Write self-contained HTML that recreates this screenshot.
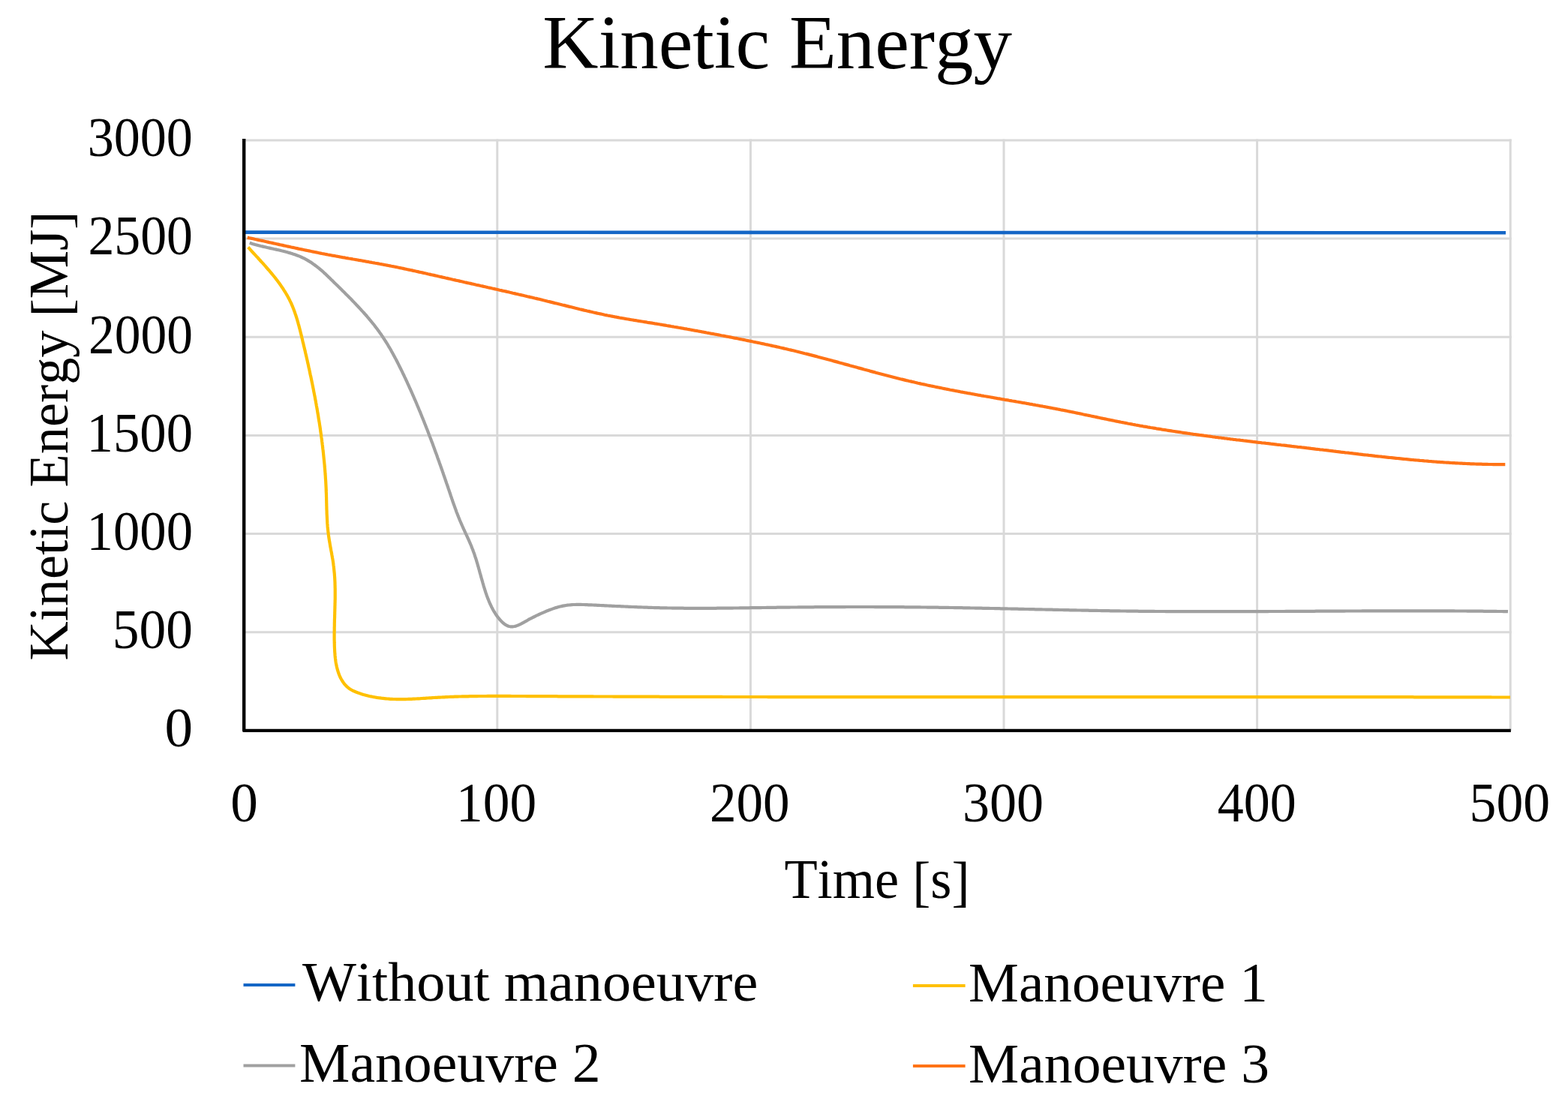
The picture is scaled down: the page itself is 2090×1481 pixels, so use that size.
<!DOCTYPE html>
<html><head><meta charset="utf-8"><title>Kinetic Energy</title>
<style>
html,body{margin:0;padding:0;background:#fff;}
body{width:2090px;height:1481px;overflow:hidden;}
svg{display:block;}
text{font-family:"Liberation Serif","DejaVu Serif",serif;fill:#000;font-kerning:none;}
</style></head><body>
<svg width="2090" height="1481" viewBox="0 0 2090 1481">
<rect width="2090" height="1481" fill="#fff"/>
<line x1="325.2" y1="187.0" x2="2014.7" y2="187.0" stroke="#d9d9d9" stroke-width="3"/>
<line x1="325.2" y1="318.1" x2="2014.7" y2="318.1" stroke="#d9d9d9" stroke-width="3"/>
<line x1="325.2" y1="449.3" x2="2014.7" y2="449.3" stroke="#d9d9d9" stroke-width="3"/>
<line x1="325.2" y1="580.5" x2="2014.7" y2="580.5" stroke="#d9d9d9" stroke-width="3"/>
<line x1="325.2" y1="711.6" x2="2014.7" y2="711.6" stroke="#d9d9d9" stroke-width="3"/>
<line x1="325.2" y1="842.8" x2="2014.7" y2="842.8" stroke="#d9d9d9" stroke-width="3"/>
<line x1="662.8" y1="185.5" x2="662.8" y2="973.9" stroke="#d9d9d9" stroke-width="3"/>
<line x1="1000.4" y1="185.5" x2="1000.4" y2="973.9" stroke="#d9d9d9" stroke-width="3"/>
<line x1="1338.0" y1="185.5" x2="1338.0" y2="973.9" stroke="#d9d9d9" stroke-width="3"/>
<line x1="1675.6" y1="185.5" x2="1675.6" y2="973.9" stroke="#d9d9d9" stroke-width="3"/>
<line x1="2013.2" y1="185.5" x2="2013.2" y2="973.9" stroke="#d9d9d9" stroke-width="3"/>
<path d="M327.0,309.6 L1000.0,309.9 L2007.0,310.3" fill="none" stroke="#1466c6" stroke-width="4.6" stroke-linejoin="round"/>
<path d="M329.7,316.6 L331.6,317.1 L333.6,317.5 L335.5,317.9 L337.5,318.3 L339.4,318.8 L341.4,319.2 L343.3,319.6 L345.3,320.1 L347.2,320.5 L349.2,320.9 L351.1,321.3 L353.1,321.8 L355.0,322.2 L357.0,322.6 L358.9,323.1 L360.9,323.5 L362.8,323.9 L364.8,324.4 L366.7,324.8 L368.7,325.2 L370.6,325.6 L372.6,326.1 L374.5,326.5 L376.5,326.9 L378.4,327.4 L380.4,327.8 L382.4,328.2 L384.3,328.6 L386.3,329.0 L388.2,329.5 L390.2,329.9 L392.1,330.3 L394.1,330.7 L396.0,331.1 L398.0,331.6 L399.9,332.0 L401.9,332.4 L403.8,332.8 L405.8,333.2 L407.8,333.6 L409.7,334.0 L411.7,334.4 L413.6,334.8 L415.6,335.2 L417.5,335.6 L419.5,336.0 L421.5,336.4 L423.4,336.8 L425.4,337.2 L427.3,337.6 L429.3,338.0 L431.3,338.3 L433.2,338.7 L435.2,339.1 L437.1,339.5 L439.1,339.8 L441.1,340.2 L443.0,340.6 L445.0,340.9 L447.0,341.3 L448.9,341.7 L450.9,342.0 L452.9,342.4 L454.8,342.7 L456.8,343.1 L458.8,343.4 L460.7,343.8 L462.7,344.1 L464.7,344.5 L466.6,344.8 L468.6,345.1 L470.6,345.5 L472.5,345.8 L474.5,346.2 L476.5,346.5 L478.4,346.9 L480.4,347.2 L482.4,347.5 L484.3,347.9 L486.3,348.2 L488.3,348.6 L490.2,348.9 L492.2,349.3 L494.2,349.6 L496.1,350.0 L498.1,350.3 L500.1,350.7 L502.0,351.0 L504.0,351.4 L506.0,351.8 L507.9,352.1 L509.9,352.5 L511.9,352.9 L513.8,353.2 L515.8,353.6 L517.7,354.0 L519.7,354.4 L521.7,354.8 L523.6,355.1 L525.6,355.5 L527.5,355.9 L529.5,356.3 L531.5,356.7 L533.4,357.1 L535.4,357.5 L537.3,357.9 L539.3,358.4 L541.2,358.8 L543.2,359.2 L545.1,359.6 L547.1,360.0 L549.1,360.4 L551.0,360.9 L553.0,361.3 L554.9,361.7 L556.9,362.1 L558.8,362.6 L560.8,363.0 L562.7,363.4 L564.7,363.9 L566.6,364.3 L568.6,364.7 L570.5,365.2 L572.5,365.6 L574.4,366.1 L576.4,366.5 L578.3,366.9 L580.3,367.4 L582.2,367.8 L584.2,368.3 L586.1,368.7 L588.1,369.1 L590.0,369.6 L592.0,370.0 L593.9,370.5 L595.9,370.9 L597.8,371.4 L599.8,371.8 L601.7,372.2 L603.7,372.7 L605.6,373.1 L607.6,373.6 L609.5,374.0 L611.5,374.4 L613.4,374.9 L615.4,375.3 L617.3,375.7 L619.3,376.2 L621.2,376.6 L623.2,377.1 L625.1,377.5 L627.1,377.9 L629.0,378.4 L631.0,378.8 L632.9,379.2 L634.9,379.7 L636.8,380.1 L638.8,380.5 L640.7,381.0 L642.7,381.4 L644.6,381.9 L646.6,382.3 L648.5,382.7 L650.5,383.2 L652.4,383.6 L654.4,384.0 L656.3,384.5 L658.2,384.9 L660.2,385.4 L662.1,385.8 L664.1,386.2 L666.0,386.7 L668.0,387.1 L669.9,387.6 L671.9,388.0 L673.8,388.4 L675.8,388.9 L677.7,389.3 L679.7,389.8 L681.6,390.2 L683.6,390.7 L685.5,391.1 L687.5,391.6 L689.4,392.0 L691.4,392.5 L693.3,392.9 L695.3,393.4 L697.2,393.8 L699.1,394.3 L701.1,394.7 L703.0,395.2 L705.0,395.6 L706.9,396.1 L708.9,396.5 L710.8,397.0 L712.8,397.5 L714.7,397.9 L716.6,398.4 L718.6,398.8 L720.5,399.3 L722.5,399.8 L724.4,400.3 L726.4,400.7 L728.3,401.2 L730.2,401.7 L732.2,402.1 L734.1,402.6 L736.1,403.1 L738.0,403.6 L739.9,404.1 L741.9,404.5 L743.8,405.0 L745.7,405.5 L747.7,406.0 L749.6,406.5 L751.6,406.9 L753.5,407.4 L755.4,407.9 L757.4,408.4 L759.3,408.9 L761.3,409.3 L763.2,409.8 L765.1,410.3 L767.1,410.8 L769.0,411.2 L771.0,411.7 L772.9,412.2 L774.8,412.6 L776.8,413.1 L778.7,413.6 L780.7,414.0 L782.6,414.5 L784.6,414.9 L786.5,415.4 L788.4,415.8 L790.4,416.3 L792.3,416.7 L794.3,417.1 L796.2,417.6 L798.2,418.0 L800.1,418.4 L802.1,418.8 L804.0,419.2 L806.0,419.7 L807.9,420.1 L809.9,420.5 L811.9,420.8 L813.8,421.2 L815.8,421.6 L817.7,422.0 L819.7,422.4 L821.7,422.7 L823.6,423.1 L825.6,423.5 L827.6,423.8 L829.5,424.2 L831.5,424.5 L833.5,424.9 L835.4,425.2 L837.4,425.5 L839.4,425.9 L841.3,426.2 L843.3,426.5 L845.3,426.9 L847.3,427.2 L849.2,427.5 L851.2,427.8 L853.2,428.2 L855.2,428.5 L857.1,428.8 L859.1,429.1 L861.1,429.4 L863.0,429.8 L865.0,430.1 L867.0,430.4 L869.0,430.7 L870.9,431.0 L872.9,431.4 L874.9,431.7 L876.9,432.0 L878.8,432.3 L880.8,432.7 L882.8,433.0 L884.8,433.3 L886.7,433.6 L888.7,434.0 L890.7,434.3 L892.6,434.6 L894.6,435.0 L896.6,435.3 L898.6,435.7 L900.5,436.0 L902.5,436.3 L904.5,436.7 L906.4,437.0 L908.4,437.4 L910.4,437.7 L912.3,438.1 L914.3,438.4 L916.3,438.8 L918.2,439.1 L920.2,439.5 L922.2,439.9 L924.1,440.2 L926.1,440.6 L928.1,440.9 L930.0,441.3 L932.0,441.7 L934.0,442.0 L935.9,442.4 L937.9,442.7 L939.9,443.1 L941.8,443.5 L943.8,443.8 L945.7,444.2 L947.7,444.6 L949.7,444.9 L951.6,445.3 L953.6,445.7 L955.6,446.0 L957.5,446.4 L959.5,446.8 L961.5,447.2 L963.4,447.5 L965.4,447.9 L967.3,448.3 L969.3,448.7 L971.3,449.0 L973.2,449.4 L975.2,449.8 L977.2,450.2 L979.1,450.6 L981.1,450.9 L983.0,451.3 L985.0,451.7 L987.0,452.1 L988.9,452.5 L990.9,452.9 L992.8,453.3 L994.8,453.7 L996.7,454.1 L998.7,454.5 L1000.7,454.9 L1002.6,455.3 L1004.6,455.7 L1006.5,456.1 L1008.5,456.5 L1010.4,456.9 L1012.4,457.3 L1014.3,457.7 L1016.3,458.1 L1018.3,458.5 L1020.2,459.0 L1022.2,459.4 L1024.1,459.8 L1026.1,460.2 L1028.0,460.6 L1030.0,461.1 L1031.9,461.5 L1033.9,461.9 L1035.8,462.4 L1037.8,462.8 L1039.7,463.3 L1041.7,463.7 L1043.6,464.1 L1045.5,464.6 L1047.5,465.0 L1049.4,465.5 L1051.4,466.0 L1053.3,466.4 L1055.3,466.9 L1057.2,467.3 L1059.2,467.8 L1061.1,468.3 L1063.0,468.7 L1065.0,469.2 L1066.9,469.7 L1068.9,470.2 L1070.8,470.7 L1072.7,471.2 L1074.7,471.6 L1076.6,472.1 L1078.5,472.6 L1080.5,473.1 L1082.4,473.6 L1084.4,474.1 L1086.3,474.6 L1088.2,475.1 L1090.2,475.7 L1092.1,476.2 L1094.0,476.7 L1095.9,477.2 L1097.9,477.7 L1099.8,478.2 L1101.7,478.7 L1103.7,479.3 L1105.6,479.8 L1107.5,480.3 L1109.5,480.8 L1111.4,481.4 L1113.3,481.9 L1115.3,482.4 L1117.2,482.9 L1119.1,483.5 L1121.0,484.0 L1123.0,484.5 L1124.9,485.1 L1126.8,485.6 L1128.8,486.1 L1130.7,486.6 L1132.6,487.2 L1134.5,487.7 L1136.5,488.2 L1138.4,488.8 L1140.3,489.3 L1142.3,489.8 L1144.2,490.4 L1146.1,490.9 L1148.0,491.4 L1150.0,491.9 L1151.9,492.5 L1153.8,493.0 L1155.8,493.5 L1157.7,494.0 L1159.6,494.6 L1161.5,495.1 L1163.5,495.6 L1165.4,496.1 L1167.3,496.7 L1169.3,497.2 L1171.2,497.7 L1173.1,498.2 L1175.1,498.7 L1177.0,499.2 L1178.9,499.7 L1180.9,500.2 L1182.8,500.7 L1184.7,501.2 L1186.7,501.7 L1188.6,502.2 L1190.5,502.7 L1192.5,503.2 L1194.4,503.7 L1196.4,504.2 L1198.3,504.7 L1200.2,505.2 L1202.2,505.6 L1204.1,506.1 L1206.1,506.6 L1208.0,507.1 L1209.9,507.5 L1211.9,508.0 L1213.8,508.4 L1215.8,508.9 L1217.7,509.3 L1219.7,509.8 L1221.6,510.2 L1223.6,510.7 L1225.5,511.1 L1227.5,511.6 L1229.4,512.0 L1231.4,512.4 L1233.3,512.8 L1235.3,513.3 L1237.2,513.7 L1239.2,514.1 L1241.1,514.5 L1243.1,514.9 L1245.0,515.3 L1247.0,515.7 L1248.9,516.1 L1250.9,516.5 L1252.9,516.9 L1254.8,517.3 L1256.8,517.7 L1258.7,518.1 L1260.7,518.5 L1262.6,518.9 L1264.6,519.3 L1266.6,519.7 L1268.5,520.0 L1270.5,520.4 L1272.4,520.8 L1274.4,521.2 L1276.4,521.5 L1278.3,521.9 L1280.3,522.3 L1282.3,522.6 L1284.2,523.0 L1286.2,523.4 L1288.2,523.7 L1290.1,524.1 L1292.1,524.4 L1294.1,524.8 L1296.0,525.2 L1298.0,525.5 L1300.0,525.9 L1301.9,526.2 L1303.9,526.6 L1305.9,526.9 L1307.8,527.3 L1309.8,527.6 L1311.8,528.0 L1313.7,528.3 L1315.7,528.7 L1317.7,529.0 L1319.6,529.3 L1321.6,529.7 L1323.6,530.0 L1325.5,530.4 L1327.5,530.7 L1329.5,531.1 L1331.4,531.4 L1333.4,531.7 L1335.4,532.1 L1337.3,532.4 L1339.3,532.8 L1341.3,533.1 L1343.2,533.4 L1345.2,533.8 L1347.2,534.1 L1349.2,534.5 L1351.1,534.8 L1353.1,535.1 L1355.1,535.5 L1357.0,535.8 L1359.0,536.2 L1361.0,536.5 L1362.9,536.9 L1364.9,537.2 L1366.9,537.5 L1368.8,537.9 L1370.8,538.2 L1372.8,538.6 L1374.7,538.9 L1376.7,539.3 L1378.7,539.6 L1380.6,540.0 L1382.6,540.3 L1384.6,540.7 L1386.5,541.1 L1388.5,541.4 L1390.5,541.8 L1392.4,542.1 L1394.4,542.5 L1396.4,542.9 L1398.3,543.2 L1400.3,543.6 L1402.3,544.0 L1404.2,544.4 L1406.2,544.7 L1408.1,545.1 L1410.1,545.5 L1412.1,545.9 L1414.0,546.3 L1416.0,546.6 L1417.9,547.0 L1419.9,547.4 L1421.9,547.8 L1423.8,548.2 L1425.8,548.6 L1427.7,549.0 L1429.7,549.4 L1431.7,549.8 L1433.6,550.2 L1435.6,550.6 L1437.5,551.0 L1439.5,551.4 L1441.4,551.8 L1443.4,552.3 L1445.3,552.7 L1447.3,553.1 L1449.3,553.5 L1451.2,553.9 L1453.2,554.3 L1455.1,554.7 L1457.1,555.1 L1459.0,555.5 L1461.0,555.9 L1463.0,556.4 L1464.9,556.8 L1466.9,557.2 L1468.8,557.6 L1470.8,558.0 L1472.7,558.4 L1474.7,558.8 L1476.6,559.2 L1478.6,559.6 L1480.6,560.0 L1482.5,560.4 L1484.5,560.8 L1486.4,561.2 L1488.4,561.6 L1490.4,562.0 L1492.3,562.4 L1494.3,562.8 L1496.2,563.1 L1498.2,563.5 L1500.2,563.9 L1502.1,564.3 L1504.1,564.7 L1506.0,565.0 L1508.0,565.4 L1510.0,565.8 L1511.9,566.1 L1513.9,566.5 L1515.9,566.8 L1517.8,567.2 L1519.8,567.6 L1521.8,567.9 L1523.7,568.3 L1525.7,568.6 L1527.7,568.9 L1529.6,569.3 L1531.6,569.6 L1533.6,570.0 L1535.5,570.3 L1537.5,570.6 L1539.5,570.9 L1541.4,571.3 L1543.4,571.6 L1545.4,571.9 L1547.4,572.2 L1549.3,572.6 L1551.3,572.9 L1553.3,573.2 L1555.2,573.5 L1557.2,573.8 L1559.2,574.1 L1561.2,574.4 L1563.1,574.7 L1565.1,575.0 L1567.1,575.3 L1569.1,575.6 L1571.0,575.9 L1573.0,576.2 L1575.0,576.5 L1577.0,576.8 L1578.9,577.1 L1580.9,577.4 L1582.9,577.7 L1584.9,577.9 L1586.8,578.2 L1588.8,578.5 L1590.8,578.8 L1592.8,579.0 L1594.8,579.3 L1596.7,579.6 L1598.7,579.9 L1600.7,580.1 L1602.7,580.4 L1604.7,580.7 L1606.6,580.9 L1608.6,581.2 L1610.6,581.5 L1612.6,581.7 L1614.6,582.0 L1616.5,582.3 L1618.5,582.5 L1620.5,582.8 L1622.5,583.0 L1624.5,583.3 L1626.5,583.5 L1628.4,583.8 L1630.4,584.0 L1632.4,584.3 L1634.4,584.5 L1636.4,584.8 L1638.3,585.0 L1640.3,585.3 L1642.3,585.5 L1644.3,585.8 L1646.3,586.0 L1648.3,586.3 L1650.3,586.5 L1652.2,586.7 L1654.2,587.0 L1656.2,587.2 L1658.2,587.5 L1660.2,587.7 L1662.2,587.9 L1664.1,588.2 L1666.1,588.4 L1668.1,588.6 L1670.1,588.9 L1672.1,589.1 L1674.1,589.3 L1676.1,589.6 L1678.0,589.8 L1680.0,590.0 L1682.0,590.3 L1684.0,590.5 L1686.0,590.7 L1688.0,591.0 L1690.0,591.2 L1691.9,591.4 L1693.9,591.7 L1695.9,591.9 L1697.9,592.1 L1699.9,592.3 L1701.9,592.6 L1703.9,592.8 L1705.9,593.0 L1707.8,593.3 L1709.8,593.5 L1711.8,593.7 L1713.8,593.9 L1715.8,594.2 L1717.8,594.4 L1719.8,594.6 L1721.7,594.9 L1723.7,595.1 L1725.7,595.3 L1727.7,595.5 L1729.7,595.8 L1731.7,596.0 L1733.7,596.2 L1735.7,596.5 L1737.6,596.7 L1739.6,596.9 L1741.6,597.2 L1743.6,597.4 L1745.6,597.6 L1747.6,597.9 L1749.6,598.1 L1751.5,598.3 L1753.5,598.6 L1755.5,598.8 L1757.5,599.0 L1759.5,599.3 L1761.5,599.5 L1763.5,599.7 L1765.4,600.0 L1767.4,600.2 L1769.4,600.4 L1771.4,600.7 L1773.4,600.9 L1775.4,601.1 L1777.4,601.4 L1779.3,601.6 L1781.3,601.9 L1783.3,602.1 L1785.3,602.3 L1787.3,602.6 L1789.3,602.8 L1791.2,603.0 L1793.2,603.3 L1795.2,603.5 L1797.2,603.7 L1799.2,604.0 L1801.2,604.2 L1803.2,604.4 L1805.1,604.7 L1807.1,604.9 L1809.1,605.1 L1811.1,605.4 L1813.1,605.6 L1815.1,605.8 L1817.1,606.1 L1819.0,606.3 L1821.0,606.5 L1823.0,606.7 L1825.0,607.0 L1827.0,607.2 L1829.0,607.4 L1830.9,607.6 L1832.9,607.9 L1834.9,608.1 L1836.9,608.3 L1838.9,608.5 L1840.9,608.7 L1842.9,609.0 L1844.9,609.2 L1846.8,609.4 L1848.8,609.6 L1850.8,609.8 L1852.8,610.0 L1854.8,610.2 L1856.8,610.4 L1858.8,610.6 L1860.7,610.8 L1862.7,611.0 L1864.7,611.2 L1866.7,611.4 L1868.7,611.6 L1870.7,611.8 L1872.7,612.0 L1874.7,612.2 L1876.6,612.4 L1878.6,612.6 L1880.6,612.8 L1882.6,613.0 L1884.6,613.2 L1886.6,613.3 L1888.6,613.5 L1890.6,613.7 L1892.6,613.9 L1894.5,614.0 L1896.5,614.2 L1898.5,614.4 L1900.5,614.5 L1902.5,614.7 L1904.5,614.9 L1906.5,615.0 L1908.5,615.2 L1910.5,615.3 L1912.5,615.5 L1914.4,615.6 L1916.4,615.8 L1918.4,615.9 L1920.4,616.1 L1922.4,616.2 L1924.4,616.3 L1926.4,616.5 L1928.4,616.6 L1930.4,616.7 L1932.4,616.8 L1934.4,617.0 L1936.4,617.1 L1938.4,617.2 L1940.3,617.3 L1942.3,617.4 L1944.3,617.5 L1946.3,617.6 L1948.3,617.7 L1950.3,617.8 L1952.3,617.9 L1954.3,618.0 L1956.3,618.1 L1958.3,618.2 L1960.3,618.3 L1962.3,618.4 L1964.3,618.4 L1966.3,618.5 L1968.3,618.6 L1970.3,618.6 L1972.3,618.7 L1974.3,618.7 L1976.3,618.8 L1978.3,618.9 L1980.3,618.9 L1982.3,618.9 L1984.3,619.0 L1986.3,619.0 L1988.3,619.0 L1990.3,619.1 L1992.3,619.1 L1994.3,619.1 L1996.3,619.1 L1998.3,619.1 L2000.3,619.1 L2002.3,619.1 L2004.3,619.1 L2006.3,619.1" fill="none" stroke="#ff7316" stroke-width="4.2" stroke-linejoin="round"/>
<path d="M332.7,323.7 L334.5,324.3 L336.3,324.9 L338.1,325.4 L340.0,326.0 L341.8,326.5 L343.7,327.0 L345.6,327.5 L347.6,328.0 L349.5,328.4 L351.4,328.9 L353.4,329.3 L355.4,329.8 L357.3,330.2 L359.3,330.6 L361.3,331.1 L363.3,331.5 L365.3,332.0 L367.3,332.4 L369.3,332.9 L371.3,333.3 L373.3,333.8 L375.3,334.3 L377.3,334.7 L379.3,335.2 L381.3,335.8 L383.2,336.3 L385.2,336.9 L387.1,337.4 L389.1,338.0 L391.0,338.7 L392.9,339.3 L394.8,340.0 L396.7,340.7 L398.6,341.4 L400.4,342.2 L402.2,343.0 L404.0,343.8 L405.8,344.7 L407.5,345.6 L409.3,346.6 L411.0,347.6 L412.6,348.6 L414.3,349.6 L415.9,350.7 L417.5,351.9 L419.1,353.0 L420.7,354.2 L422.3,355.4 L423.8,356.6 L425.4,357.8 L426.9,359.1 L428.4,360.4 L429.9,361.7 L431.4,363.0 L432.8,364.4 L434.3,365.7 L435.7,367.1 L437.2,368.5 L438.6,369.9 L440.1,371.3 L441.5,372.7 L443.0,374.1 L444.4,375.5 L445.8,376.9 L447.2,378.3 L448.7,379.7 L450.1,381.1 L451.5,382.5 L453.0,383.9 L454.4,385.3 L455.8,386.7 L457.3,388.2 L458.7,389.6 L460.1,391.0 L461.5,392.4 L462.9,393.8 L464.4,395.3 L465.8,396.7 L467.2,398.1 L468.6,399.5 L470.0,401.0 L471.4,402.4 L472.8,403.9 L474.2,405.3 L475.5,406.8 L476.9,408.2 L478.3,409.7 L479.6,411.1 L481.0,412.6 L482.3,414.1 L483.7,415.6 L485.0,417.0 L486.3,418.5 L487.7,420.0 L489.0,421.5 L490.3,423.1 L491.6,424.6 L492.8,426.1 L494.1,427.6 L495.4,429.2 L496.6,430.7 L497.9,432.3 L499.1,433.8 L500.3,435.4 L501.5,437.0 L502.7,438.6 L503.9,440.2 L505.1,441.8 L506.2,443.4 L507.4,445.0 L508.5,446.6 L509.6,448.3 L510.7,449.9 L511.8,451.6 L512.9,453.3 L514.0,455.0 L515.0,456.6 L516.1,458.3 L517.1,460.0 L518.1,461.8 L519.2,463.5 L520.2,465.2 L521.2,466.9 L522.1,468.7 L523.1,470.4 L524.1,472.2 L525.0,473.9 L526.0,475.7 L526.9,477.5 L527.9,479.2 L528.8,481.0 L529.7,482.8 L530.6,484.6 L531.5,486.4 L532.4,488.2 L533.3,490.0 L534.2,491.8 L535.1,493.6 L536.0,495.4 L536.8,497.2 L537.7,499.0 L538.6,500.8 L539.4,502.6 L540.3,504.4 L541.1,506.2 L542.0,508.0 L542.8,509.9 L543.6,511.7 L544.5,513.5 L545.3,515.3 L546.1,517.2 L547.0,519.0 L547.8,520.8 L548.6,522.6 L549.4,524.5 L550.2,526.3 L551.0,528.1 L551.8,530.0 L552.6,531.8 L553.4,533.6 L554.2,535.5 L555.0,537.3 L555.7,539.1 L556.5,541.0 L557.3,542.8 L558.1,544.7 L558.8,546.5 L559.6,548.4 L560.4,550.2 L561.1,552.1 L561.9,553.9 L562.6,555.8 L563.4,557.6 L564.1,559.5 L564.9,561.3 L565.6,563.2 L566.3,565.0 L567.1,566.9 L567.8,568.7 L568.5,570.6 L569.3,572.5 L570.0,574.3 L570.7,576.2 L571.4,578.1 L572.1,579.9 L572.8,581.8 L573.6,583.7 L574.3,585.5 L575.0,587.4 L575.7,589.3 L576.4,591.1 L577.1,593.0 L577.8,594.9 L578.5,596.8 L579.1,598.6 L579.8,600.5 L580.5,602.4 L581.2,604.3 L581.9,606.1 L582.6,608.0 L583.2,609.9 L583.9,611.8 L584.6,613.7 L585.3,615.5 L585.9,617.4 L586.6,619.3 L587.3,621.2 L587.9,623.1 L588.6,625.0 L589.3,626.8 L589.9,628.7 L590.6,630.6 L591.2,632.5 L591.9,634.4 L592.5,636.3 L593.2,638.2 L593.8,640.1 L594.5,642.0 L595.1,643.9 L595.8,645.7 L596.4,647.6 L597.1,649.5 L597.7,651.4 L598.4,653.3 L599.0,655.2 L599.6,657.1 L600.3,659.0 L600.9,660.9 L601.6,662.8 L602.2,664.7 L602.9,666.6 L603.5,668.5 L604.2,670.4 L604.8,672.3 L605.5,674.1 L606.2,676.0 L606.9,677.9 L607.6,679.8 L608.2,681.7 L608.9,683.5 L609.7,685.4 L610.4,687.3 L611.1,689.1 L611.9,691.0 L612.6,692.8 L613.4,694.7 L614.2,696.5 L615.0,698.3 L615.8,700.2 L616.6,702.0 L617.4,703.8 L618.2,705.6 L619.1,707.5 L619.9,709.3 L620.7,711.1 L621.6,712.9 L622.4,714.7 L623.2,716.5 L624.1,718.4 L624.9,720.2 L625.7,722.0 L626.5,723.8 L627.3,725.7 L628.1,727.5 L628.8,729.4 L629.5,731.2 L630.3,733.1 L630.9,735.0 L631.6,736.8 L632.3,738.7 L632.9,740.6 L633.5,742.5 L634.2,744.4 L634.8,746.3 L635.3,748.2 L635.9,750.1 L636.5,752.0 L637.0,754.0 L637.6,755.9 L638.1,757.8 L638.7,759.7 L639.2,761.7 L639.7,763.6 L640.3,765.5 L640.8,767.4 L641.3,769.4 L641.9,771.3 L642.4,773.2 L643.0,775.1 L643.5,777.1 L644.1,779.0 L644.6,780.9 L645.2,782.8 L645.8,784.7 L646.4,786.6 L647.0,788.5 L647.6,790.4 L648.3,792.3 L648.9,794.2 L649.6,796.1 L650.3,797.9 L651.1,799.8 L651.8,801.6 L652.6,803.5 L653.4,805.3 L654.3,807.1 L655.1,808.9 L656.1,810.7 L657.0,812.5 L658.0,814.3 L659.1,816.0 L660.2,817.8 L661.3,819.5 L662.5,821.2 L663.7,822.9 L665.0,824.5 L666.4,826.1 L667.8,827.7 L669.2,829.1 L670.7,830.5 L672.2,831.7 L673.8,832.8 L675.4,833.7 L677.0,834.5 L678.7,835.0 L680.4,835.3 L682.2,835.4 L683.9,835.3 L685.7,835.0 L687.6,834.6 L689.4,833.9 L691.2,833.2 L693.1,832.3 L695.0,831.4 L696.8,830.4 L698.7,829.4 L700.5,828.3 L702.4,827.3 L704.2,826.2 L706.0,825.2 L707.8,824.3 L709.6,823.4 L711.4,822.5 L713.2,821.6 L715.0,820.7 L716.8,819.9 L718.6,819.0 L720.4,818.2 L722.2,817.4 L724.0,816.6 L725.8,815.8 L727.7,815.0 L729.5,814.2 L731.4,813.5 L733.3,812.8 L735.2,812.1 L737.1,811.4 L739.0,810.7 L740.9,810.1 L742.8,809.6 L744.7,809.0 L746.6,808.5 L748.6,808.1 L750.5,807.6 L752.5,807.3 L754.4,807.0 L756.4,806.7 L758.4,806.5 L760.3,806.3 L762.3,806.1 L764.3,806.0 L766.3,806.0 L768.3,805.9 L770.3,805.9 L772.3,805.9 L774.3,805.9 L776.3,806.0 L778.3,806.0 L780.3,806.1 L782.3,806.2 L784.3,806.3 L786.3,806.3 L788.3,806.4 L790.3,806.5 L792.3,806.6 L794.3,806.7 L796.3,806.8 L798.3,806.9 L800.3,807.0 L802.3,807.1 L804.3,807.2 L806.3,807.3 L808.3,807.4 L810.3,807.5 L812.3,807.6 L814.3,807.7 L816.3,807.8 L818.3,807.9 L820.3,808.0 L822.3,808.1 L824.3,808.2 L826.3,808.2 L828.3,808.3 L830.3,808.4 L832.3,808.5 L834.3,808.6 L836.3,808.7 L838.3,808.8 L840.3,808.9 L842.3,809.0 L844.3,809.0 L846.3,809.1 L848.3,809.2 L850.3,809.3 L852.3,809.4 L854.3,809.4 L856.3,809.5 L858.3,809.6 L860.3,809.7 L862.3,809.7 L864.3,809.8 L866.3,809.9 L868.3,809.9 L870.3,810.0 L872.3,810.1 L874.3,810.1 L876.2,810.2 L878.2,810.2 L880.2,810.3 L882.2,810.3 L884.2,810.4 L886.2,810.4 L888.2,810.4 L890.2,810.5 L892.2,810.5 L894.2,810.5 L896.2,810.6 L898.2,810.6 L900.2,810.6 L902.2,810.7 L904.2,810.7 L906.2,810.7 L908.2,810.7 L910.2,810.7 L912.2,810.8 L914.2,810.8 L916.2,810.8 L918.2,810.8 L920.2,810.8 L922.2,810.8 L924.2,810.8 L926.2,810.8 L928.2,810.8 L930.2,810.8 L932.2,810.8 L934.2,810.8 L936.2,810.8 L938.2,810.8 L940.2,810.8 L942.2,810.8 L944.2,810.8 L946.2,810.8 L948.2,810.8 L950.2,810.8 L952.2,810.8 L954.2,810.8 L956.2,810.7 L958.2,810.7 L960.2,810.7 L962.2,810.7 L964.2,810.7 L966.2,810.7 L968.2,810.6 L970.2,810.6 L972.2,810.6 L974.2,810.6 L976.2,810.6 L978.2,810.5 L980.2,810.5 L982.2,810.5 L984.2,810.5 L986.2,810.4 L988.2,810.4 L990.2,810.4 L992.2,810.4 L994.2,810.3 L996.2,810.3 L998.2,810.3 L1000.2,810.2 L1002.2,810.2 L1004.2,810.2 L1006.2,810.2 L1008.2,810.1 L1010.2,810.1 L1012.2,810.1 L1014.2,810.1 L1016.2,810.0 L1018.2,810.0 L1020.2,810.0 L1022.2,809.9 L1024.2,809.9 L1026.2,809.9 L1028.2,809.9 L1030.2,809.8 L1032.2,809.8 L1034.2,809.8 L1036.2,809.7 L1038.2,809.7 L1040.2,809.7 L1042.2,809.7 L1044.2,809.6 L1046.2,809.6 L1048.2,809.6 L1050.2,809.6 L1052.2,809.6 L1054.2,809.5 L1056.2,809.5 L1058.2,809.5 L1060.2,809.5 L1062.2,809.5 L1064.2,809.4 L1066.2,809.4 L1068.2,809.4 L1070.2,809.4 L1072.2,809.4 L1074.2,809.3 L1076.2,809.3 L1078.2,809.3 L1080.2,809.3 L1082.2,809.3 L1084.2,809.3 L1086.2,809.2 L1088.2,809.2 L1090.2,809.2 L1092.2,809.2 L1094.2,809.2 L1096.2,809.2 L1098.2,809.2 L1100.2,809.2 L1102.2,809.1 L1104.2,809.1 L1106.2,809.1 L1108.2,809.1 L1110.2,809.1 L1112.2,809.1 L1114.2,809.1 L1116.2,809.1 L1118.2,809.1 L1120.2,809.1 L1122.2,809.1 L1124.2,809.1 L1126.2,809.1 L1128.2,809.0 L1130.2,809.0 L1132.2,809.0 L1134.2,809.0 L1136.2,809.0 L1138.2,809.0 L1140.2,809.0 L1142.2,809.0 L1144.2,809.0 L1146.2,809.0 L1148.2,809.0 L1150.2,809.0 L1152.2,809.0 L1154.2,809.0 L1156.2,809.0 L1158.2,809.0 L1160.2,809.0 L1162.2,809.0 L1164.2,809.0 L1166.2,809.1 L1168.2,809.1 L1170.2,809.1 L1172.2,809.1 L1174.2,809.1 L1176.2,809.1 L1178.2,809.1 L1180.2,809.1 L1182.2,809.1 L1184.2,809.1 L1186.2,809.1 L1188.2,809.1 L1190.2,809.2 L1192.2,809.2 L1194.2,809.2 L1196.2,809.2 L1198.2,809.2 L1200.2,809.2 L1202.2,809.2 L1204.2,809.2 L1206.2,809.3 L1208.2,809.3 L1210.2,809.3 L1212.2,809.3 L1214.2,809.3 L1216.2,809.3 L1218.2,809.4 L1220.2,809.4 L1222.2,809.4 L1224.2,809.4 L1226.2,809.4 L1228.2,809.5 L1230.2,809.5 L1232.2,809.5 L1234.2,809.5 L1236.2,809.6 L1238.2,809.6 L1240.2,809.6 L1242.2,809.6 L1244.2,809.7 L1246.1,809.7 L1248.1,809.7 L1250.1,809.7 L1252.1,809.8 L1254.1,809.8 L1256.1,809.8 L1258.1,809.8 L1260.1,809.9 L1262.1,809.9 L1264.1,809.9 L1266.1,810.0 L1268.1,810.0 L1270.1,810.0 L1272.1,810.1 L1274.1,810.1 L1276.1,810.1 L1278.1,810.2 L1280.1,810.2 L1282.1,810.2 L1284.1,810.3 L1286.1,810.3 L1288.1,810.3 L1290.1,810.4 L1292.1,810.4 L1294.1,810.5 L1296.1,810.5 L1298.1,810.5 L1300.1,810.6 L1302.1,810.6 L1304.1,810.6 L1306.1,810.7 L1308.1,810.7 L1310.1,810.8 L1312.1,810.8 L1314.1,810.8 L1316.1,810.9 L1318.1,810.9 L1320.1,811.0 L1322.1,811.0 L1324.1,811.0 L1326.1,811.1 L1328.1,811.1 L1330.1,811.2 L1332.1,811.2 L1334.1,811.3 L1336.1,811.3 L1338.1,811.3 L1340.1,811.4 L1342.1,811.4 L1344.1,811.5 L1346.1,811.5 L1348.1,811.6 L1350.1,811.6 L1352.1,811.6 L1354.1,811.7 L1356.1,811.7 L1358.1,811.8 L1360.1,811.8 L1362.1,811.9 L1364.1,811.9 L1366.1,812.0 L1368.1,812.0 L1370.1,812.0 L1372.1,812.1 L1374.1,812.1 L1376.1,812.2 L1378.1,812.2 L1380.1,812.3 L1382.1,812.3 L1384.1,812.4 L1386.1,812.4 L1388.1,812.4 L1390.1,812.5 L1392.1,812.5 L1394.1,812.6 L1396.1,812.6 L1398.1,812.7 L1400.1,812.7 L1402.1,812.7 L1404.1,812.8 L1406.1,812.8 L1408.1,812.9 L1410.1,812.9 L1412.1,813.0 L1414.1,813.0 L1416.1,813.0 L1418.1,813.1 L1420.1,813.1 L1422.1,813.2 L1424.1,813.2 L1426.1,813.3 L1428.1,813.3 L1430.1,813.3 L1432.1,813.4 L1434.1,813.4 L1436.1,813.5 L1438.1,813.5 L1440.1,813.5 L1442.1,813.6 L1444.1,813.6 L1446.1,813.7 L1448.1,813.7 L1450.1,813.7 L1452.1,813.8 L1454.1,813.8 L1456.1,813.8 L1458.1,813.9 L1460.1,813.9 L1462.1,813.9 L1464.1,814.0 L1466.1,814.0 L1468.1,814.1 L1470.1,814.1 L1472.1,814.1 L1474.1,814.2 L1476.1,814.2 L1478.1,814.2 L1480.1,814.3 L1482.1,814.3 L1484.1,814.3 L1486.1,814.3 L1488.1,814.4 L1490.1,814.4 L1492.1,814.4 L1494.1,814.5 L1496.1,814.5 L1498.1,814.5 L1500.1,814.5 L1502.1,814.6 L1504.1,814.6 L1506.1,814.6 L1508.1,814.6 L1510.1,814.7 L1512.1,814.7 L1514.1,814.7 L1516.1,814.7 L1518.1,814.8 L1520.1,814.8 L1522.1,814.8 L1524.1,814.8 L1526.1,814.8 L1528.1,814.9 L1530.1,814.9 L1532.1,814.9 L1534.1,814.9 L1536.1,814.9 L1538.1,814.9 L1540.1,815.0 L1542.1,815.0 L1544.1,815.0 L1546.1,815.0 L1548.1,815.0 L1550.1,815.0 L1552.1,815.0 L1554.1,815.1 L1556.1,815.1 L1558.1,815.1 L1560.1,815.1 L1562.1,815.1 L1564.0,815.1 L1566.0,815.1 L1568.0,815.1 L1570.0,815.1 L1572.0,815.1 L1574.0,815.2 L1576.0,815.2 L1578.0,815.2 L1580.0,815.2 L1582.0,815.2 L1584.0,815.2 L1586.0,815.2 L1588.0,815.2 L1590.0,815.2 L1592.0,815.2 L1594.0,815.2 L1596.0,815.2 L1598.0,815.2 L1600.0,815.2 L1602.0,815.2 L1604.0,815.2 L1606.0,815.2 L1608.0,815.2 L1610.0,815.2 L1612.0,815.2 L1614.0,815.2 L1616.0,815.2 L1618.0,815.2 L1620.0,815.2 L1622.0,815.2 L1624.0,815.2 L1626.0,815.2 L1628.0,815.2 L1630.0,815.2 L1632.0,815.2 L1634.0,815.2 L1636.0,815.2 L1638.0,815.2 L1640.0,815.2 L1642.0,815.2 L1644.0,815.2 L1646.0,815.2 L1648.0,815.2 L1650.0,815.2 L1652.0,815.2 L1654.0,815.2 L1656.0,815.2 L1658.0,815.2 L1660.0,815.2 L1662.0,815.2 L1664.0,815.2 L1666.0,815.1 L1668.0,815.1 L1670.0,815.1 L1672.0,815.1 L1674.0,815.1 L1676.0,815.1 L1678.0,815.1 L1680.0,815.1 L1682.0,815.1 L1684.0,815.1 L1686.0,815.1 L1688.0,815.1 L1690.0,815.1 L1692.0,815.0 L1694.0,815.0 L1696.0,815.0 L1698.0,815.0 L1700.0,815.0 L1702.0,815.0 L1704.0,815.0 L1706.0,815.0 L1708.0,815.0 L1710.0,815.0 L1712.0,815.0 L1714.0,814.9 L1716.0,814.9 L1718.0,814.9 L1720.0,814.9 L1722.0,814.9 L1724.0,814.9 L1726.0,814.9 L1728.0,814.9 L1730.0,814.9 L1732.0,814.9 L1734.0,814.8 L1736.0,814.8 L1738.0,814.8 L1740.0,814.8 L1742.0,814.8 L1744.0,814.8 L1746.0,814.8 L1748.0,814.8 L1750.0,814.8 L1752.0,814.8 L1754.0,814.7 L1756.0,814.7 L1758.0,814.7 L1760.0,814.7 L1762.0,814.7 L1764.0,814.7 L1766.0,814.7 L1768.0,814.7 L1770.0,814.7 L1772.0,814.6 L1774.0,814.6 L1776.0,814.6 L1778.0,814.6 L1780.0,814.6 L1782.0,814.6 L1784.0,814.6 L1786.0,814.6 L1788.0,814.6 L1790.0,814.6 L1792.0,814.6 L1794.0,814.5 L1796.0,814.5 L1798.0,814.5 L1800.0,814.5 L1802.0,814.5 L1804.0,814.5 L1806.0,814.5 L1808.0,814.5 L1810.0,814.5 L1812.0,814.5 L1814.0,814.5 L1816.0,814.4 L1818.0,814.4 L1820.0,814.4 L1822.0,814.4 L1824.0,814.4 L1826.0,814.4 L1828.0,814.4 L1830.0,814.4 L1832.0,814.4 L1834.0,814.4 L1836.0,814.4 L1838.0,814.4 L1840.0,814.4 L1842.0,814.4 L1844.0,814.4 L1846.0,814.4 L1848.0,814.3 L1850.0,814.3 L1852.0,814.3 L1854.0,814.3 L1856.0,814.3 L1858.0,814.3 L1860.0,814.3 L1862.0,814.3 L1864.0,814.3 L1866.0,814.3 L1868.0,814.3 L1870.0,814.3 L1872.0,814.3 L1874.0,814.3 L1876.0,814.3 L1878.0,814.3 L1880.0,814.3 L1882.0,814.3 L1884.0,814.3 L1886.0,814.3 L1888.0,814.3 L1890.0,814.3 L1892.0,814.3 L1894.0,814.3 L1896.0,814.3 L1898.0,814.3 L1900.0,814.3 L1902.0,814.3 L1904.0,814.3 L1906.0,814.3 L1908.0,814.3 L1910.0,814.3 L1912.0,814.3 L1914.0,814.3 L1916.0,814.4 L1918.0,814.4 L1920.0,814.4 L1922.0,814.4 L1924.0,814.4 L1926.0,814.4 L1928.0,814.4 L1930.0,814.4 L1932.0,814.4 L1934.0,814.4 L1936.0,814.4 L1938.0,814.4 L1940.0,814.5 L1942.0,814.5 L1944.0,814.5 L1946.0,814.5 L1948.0,814.5 L1950.0,814.5 L1952.0,814.5 L1954.0,814.5 L1956.0,814.6 L1958.0,814.6 L1960.0,814.6 L1962.0,814.6 L1964.0,814.6 L1966.0,814.6 L1968.0,814.7 L1970.0,814.7 L1972.0,814.7 L1974.0,814.7 L1976.0,814.7 L1978.0,814.8 L1980.0,814.8 L1982.0,814.8 L1984.0,814.8 L1986.0,814.8 L1988.0,814.9 L1990.0,814.9 L1992.0,814.9 L1994.0,814.9 L1996.0,815.0 L1998.0,815.0 L2000.0,815.0 L2002.0,815.0 L2004.0,815.1 L2006.0,815.1 L2008.0,815.1 L2010.0,815.2" fill="none" stroke="#a0a0a0" stroke-width="4.2" stroke-linejoin="round"/>
<path d="M330.7,329.5 L332.0,330.9 L333.3,332.4 L334.6,333.8 L335.9,335.3 L337.2,336.7 L338.6,338.2 L339.9,339.6 L341.3,341.1 L342.6,342.6 L344.0,344.0 L345.3,345.5 L346.7,347.0 L348.0,348.5 L349.3,349.9 L350.7,351.4 L352.0,352.9 L353.4,354.4 L354.7,356.0 L356.0,357.5 L357.3,359.0 L358.7,360.5 L360.0,362.1 L361.3,363.6 L362.5,365.1 L363.8,366.7 L365.1,368.3 L366.3,369.8 L367.6,371.4 L368.8,373.0 L370.0,374.6 L371.2,376.2 L372.4,377.8 L373.6,379.5 L374.7,381.1 L375.8,382.8 L377.0,384.4 L378.0,386.1 L379.1,387.8 L380.2,389.5 L381.2,391.2 L382.2,392.9 L383.2,394.6 L384.1,396.4 L385.1,398.1 L386.0,399.9 L386.8,401.6 L387.7,403.4 L388.5,405.2 L389.3,407.1 L390.1,408.9 L390.8,410.7 L391.5,412.6 L392.2,414.4 L392.9,416.3 L393.5,418.2 L394.2,420.1 L394.8,422.0 L395.4,423.9 L396.0,425.8 L396.5,427.7 L397.1,429.6 L397.6,431.6 L398.2,433.5 L398.7,435.5 L399.2,437.4 L399.7,439.3 L400.2,441.3 L400.7,443.2 L401.2,445.2 L401.6,447.1 L402.1,449.1 L402.6,451.0 L403.1,453.0 L403.5,454.9 L404.0,456.9 L404.5,458.8 L404.9,460.8 L405.4,462.7 L405.9,464.7 L406.3,466.6 L406.8,468.6 L407.2,470.5 L407.7,472.5 L408.1,474.4 L408.6,476.3 L409.0,478.3 L409.5,480.2 L409.9,482.2 L410.3,484.1 L410.8,486.1 L411.2,488.0 L411.6,490.0 L412.1,491.9 L412.5,493.9 L412.9,495.8 L413.3,497.8 L413.7,499.7 L414.2,501.7 L414.6,503.6 L415.0,505.6 L415.4,507.5 L415.8,509.5 L416.2,511.4 L416.6,513.4 L417.0,515.3 L417.4,517.3 L417.8,519.2 L418.1,521.2 L418.5,523.2 L418.9,525.1 L419.3,527.1 L419.7,529.0 L420.0,531.0 L420.4,533.0 L420.8,534.9 L421.1,536.9 L421.5,538.9 L421.8,540.8 L422.2,542.8 L422.5,544.8 L422.9,546.7 L423.2,548.7 L423.5,550.7 L423.9,552.6 L424.2,554.6 L424.5,556.6 L424.8,558.6 L425.1,560.5 L425.5,562.5 L425.8,564.5 L426.1,566.5 L426.4,568.4 L426.7,570.4 L427.0,572.4 L427.2,574.4 L427.5,576.4 L427.8,578.3 L428.1,580.3 L428.3,582.3 L428.6,584.3 L428.9,586.3 L429.1,588.3 L429.4,590.2 L429.6,592.2 L429.9,594.2 L430.1,596.2 L430.3,598.2 L430.6,600.2 L430.8,602.2 L431.0,604.1 L431.2,606.1 L431.4,608.1 L431.6,610.1 L431.8,612.1 L432.0,614.1 L432.2,616.1 L432.4,618.1 L432.6,620.0 L432.7,622.0 L432.9,624.0 L433.1,626.0 L433.2,628.0 L433.4,630.0 L433.5,632.0 L433.7,634.0 L433.8,636.0 L433.9,638.0 L434.1,640.0 L434.2,641.9 L434.3,643.9 L434.4,645.9 L434.5,647.9 L434.6,649.9 L434.7,651.9 L434.7,653.9 L434.8,655.9 L434.9,657.9 L435.0,659.9 L435.0,661.9 L435.1,663.9 L435.1,665.8 L435.2,667.8 L435.2,669.8 L435.3,671.8 L435.3,673.8 L435.4,675.8 L435.4,677.8 L435.5,679.8 L435.6,681.8 L435.6,683.8 L435.7,685.8 L435.8,687.7 L435.9,689.7 L436.0,691.7 L436.1,693.7 L436.2,695.7 L436.3,697.7 L436.5,699.7 L436.6,701.7 L436.8,703.7 L437.0,705.6 L437.2,707.6 L437.4,709.6 L437.7,711.6 L437.9,713.6 L438.2,715.6 L438.5,717.6 L438.8,719.6 L439.1,721.5 L439.5,723.5 L439.8,725.5 L440.1,727.5 L440.5,729.5 L440.9,731.5 L441.2,733.4 L441.6,735.4 L442.0,737.4 L442.3,739.4 L442.7,741.4 L443.0,743.4 L443.4,745.3 L443.7,747.3 L444.0,749.3 L444.3,751.3 L444.5,753.3 L444.8,755.2 L445.0,757.2 L445.2,759.2 L445.4,761.2 L445.6,763.2 L445.8,765.1 L445.9,767.1 L446.1,769.1 L446.2,771.1 L446.3,773.0 L446.4,775.0 L446.5,777.0 L446.5,779.0 L446.6,781.0 L446.6,782.9 L446.7,784.9 L446.7,786.9 L446.7,788.9 L446.7,790.9 L446.7,792.8 L446.7,794.8 L446.7,796.8 L446.7,798.8 L446.6,800.8 L446.6,802.8 L446.5,804.7 L446.5,806.7 L446.4,808.7 L446.4,810.7 L446.3,812.7 L446.3,814.7 L446.2,816.7 L446.2,818.7 L446.1,820.7 L446.1,822.7 L446.0,824.7 L445.9,826.7 L445.9,828.7 L445.8,830.7 L445.8,832.7 L445.8,834.7 L445.7,836.7 L445.7,838.7 L445.7,840.7 L445.6,842.7 L445.6,844.8 L445.6,846.8 L445.6,848.8 L445.6,850.8 L445.6,852.8 L445.7,854.9 L445.7,856.9 L445.8,858.9 L445.8,861.0 L445.9,863.0 L446.0,865.0 L446.1,867.1 L446.2,869.1 L446.4,871.2 L446.5,873.2 L446.7,875.2 L446.9,877.3 L447.2,879.3 L447.4,881.3 L447.7,883.3 L448.1,885.3 L448.5,887.2 L448.9,889.2 L449.4,891.1 L449.9,893.0 L450.5,894.9 L451.1,896.8 L451.8,898.7 L452.5,900.5 L453.3,902.3 L454.1,904.0 L455.1,905.8 L456.1,907.4 L457.1,909.1 L458.2,910.6 L459.4,912.1 L460.7,913.6 L462.0,914.9 L463.4,916.2 L464.9,917.4 L466.5,918.5 L468.1,919.5 L469.8,920.4 L471.6,921.3 L473.4,922.0 L475.2,922.8 L477.1,923.5 L478.9,924.1 L480.8,924.8 L482.7,925.4 L484.6,926.0 L486.5,926.5 L488.4,927.0 L490.4,927.5 L492.3,928.0 L494.3,928.4 L496.3,928.8 L498.2,929.2 L500.2,929.5 L502.2,929.9 L504.2,930.2 L506.2,930.4 L508.3,930.7 L510.3,930.9 L512.3,931.1 L514.3,931.3 L516.4,931.5 L518.4,931.6 L520.4,931.8 L522.4,931.9 L524.5,932.0 L526.5,932.0 L528.5,932.1 L530.5,932.1 L532.6,932.1 L534.6,932.1 L536.6,932.1 L538.6,932.1 L540.6,932.1 L542.6,932.0 L544.6,931.9 L546.6,931.9 L548.6,931.8 L550.6,931.7 L552.6,931.6 L554.6,931.5 L556.5,931.4 L558.5,931.3 L560.5,931.2 L562.5,931.0 L564.5,930.9 L566.5,930.8 L568.4,930.6 L570.4,930.5 L572.4,930.4 L574.4,930.3 L576.4,930.1 L578.3,930.0 L580.3,929.9 L582.3,929.8 L584.3,929.7 L586.3,929.6 L588.3,929.5 L590.2,929.4 L592.2,929.3 L594.2,929.2 L596.2,929.1 L598.2,929.0 L600.2,928.9 L602.2,928.9 L604.1,928.8 L606.1,928.7 L608.1,928.7 L610.1,928.6 L612.1,928.5 L614.1,928.5 L616.1,928.4 L618.1,928.4 L620.1,928.3 L622.1,928.3 L624.1,928.3 L626.1,928.2 L628.0,928.2 L630.0,928.2 L632.0,928.1 L634.0,928.1 L636.0,928.1 L638.0,928.0 L640.0,928.0 L642.0,928.0 L644.0,928.0 L646.0,928.0 L648.0,928.0 L650.0,927.9 L652.0,927.9 L654.0,927.9 L656.0,927.9 L658.0,927.9 L660.0,927.9 L662.0,927.9 L664.0,927.9 L666.0,927.9 L668.0,927.9 L670.0,927.9 L672.0,927.9 L674.0,927.9 L676.0,927.9 L678.0,927.9 L680.0,927.9 L682.0,928.0 L684.0,928.0 L686.0,928.0 L688.0,928.0 L690.0,928.0 L692.0,928.0 L694.0,928.0 L696.0,928.0 L698.0,928.0 L700.0,928.0 L702.0,928.1 L704.0,928.1 L706.0,928.1 L708.0,928.1 L710.0,928.1 L712.0,928.1 L714.0,928.1 L716.0,928.1 L718.0,928.1 L720.0,928.1 L722.0,928.1 L724.0,928.2 L726.0,928.2 L728.0,928.2 L730.0,928.2 L732.0,928.2 L734.0,928.2 L736.0,928.2 L738.0,928.2 L740.0,928.2 L742.0,928.2 L744.0,928.3 L746.0,928.3 L748.0,928.3 L750.0,928.3 L752.0,928.3 L754.0,928.3 L756.0,928.3 L758.0,928.3 L760.0,928.3 L762.0,928.3 L764.0,928.3 L766.0,928.3 L768.0,928.4 L770.0,928.4 L772.0,928.4 L774.0,928.4 L776.0,928.4 L778.0,928.4 L780.0,928.4 L782.0,928.4 L784.0,928.4 L786.0,928.4 L788.0,928.4 L790.0,928.4 L792.0,928.5 L794.0,928.5 L796.0,928.5 L798.0,928.5 L800.0,928.5 L802.0,928.5 L804.0,928.5 L806.0,928.5 L808.0,928.5 L810.0,928.5 L812.0,928.5 L814.0,928.5 L816.0,928.5 L818.0,928.6 L820.0,928.6 L822.0,928.6 L824.0,928.6 L826.0,928.6 L828.0,928.6 L830.0,928.6 L832.0,928.6 L834.0,928.6 L836.0,928.6 L838.0,928.6 L840.0,928.6 L842.0,928.6 L844.0,928.6 L846.0,928.6 L848.0,928.7 L850.0,928.7 L852.0,928.7 L854.0,928.7 L856.0,928.7 L858.0,928.7 L860.0,928.7 L862.0,928.7 L864.0,928.7 L866.0,928.7 L868.0,928.7 L870.0,928.7 L872.0,928.7 L874.0,928.7 L876.0,928.7 L878.0,928.7 L880.0,928.8 L882.0,928.8 L884.0,928.8 L886.0,928.8 L888.0,928.8 L890.0,928.8 L892.0,928.8 L894.0,928.8 L896.0,928.8 L898.0,928.8 L900.0,928.8 L902.0,928.8 L904.0,928.8 L906.0,928.8 L908.0,928.8 L910.0,928.8 L912.0,928.8 L914.0,928.8 L916.0,928.8 L918.0,928.9 L920.0,928.9 L922.0,928.9 L924.0,928.9 L926.0,928.9 L928.0,928.9 L930.0,928.9 L932.0,928.9 L934.0,928.9 L936.0,928.9 L938.0,928.9 L940.0,928.9 L942.0,928.9 L943.9,928.9 L945.9,928.9 L947.9,928.9 L949.9,928.9 L951.9,928.9 L953.9,928.9 L955.9,928.9 L957.9,928.9 L959.9,928.9 L961.9,928.9 L963.9,929.0 L965.9,929.0 L967.9,929.0 L969.9,929.0 L971.9,929.0 L973.9,929.0 L975.9,929.0 L977.9,929.0 L979.9,929.0 L981.9,929.0 L983.9,929.0 L985.9,929.0 L987.9,929.0 L989.9,929.0 L991.9,929.0 L993.9,929.0 L995.9,929.0 L997.9,929.0 L999.9,929.0 L1001.9,929.0 L1003.9,929.0 L1005.9,929.0 L1007.9,929.0 L1009.9,929.0 L1011.9,929.0 L1013.9,929.0 L1015.9,929.0 L1017.9,929.0 L1019.9,929.0 L1021.9,929.0 L1023.9,929.1 L1025.9,929.1 L1027.9,929.1 L1029.9,929.1 L1031.9,929.1 L1033.9,929.1 L1035.9,929.1 L1037.9,929.1 L1039.9,929.1 L1041.9,929.1 L1043.9,929.1 L1045.9,929.1 L1047.9,929.1 L1049.9,929.1 L1051.9,929.1 L1053.9,929.1 L1055.9,929.1 L1057.9,929.1 L1059.9,929.1 L1061.9,929.1 L1063.9,929.1 L1065.9,929.1 L1067.9,929.1 L1069.9,929.1 L1071.9,929.1 L1073.9,929.1 L1075.9,929.1 L1077.9,929.1 L1079.9,929.1 L1081.9,929.1 L1083.9,929.1 L1085.8,929.1 L1087.8,929.1 L1089.8,929.1 L1091.8,929.1 L1093.8,929.1 L1095.8,929.1 L1097.8,929.1 L1099.8,929.1 L1101.8,929.1 L1103.8,929.1 L1105.8,929.1 L1107.8,929.1 L1109.8,929.1 L1111.8,929.1 L1113.8,929.1 L1115.8,929.2 L1117.8,929.2 L1119.8,929.2 L1121.8,929.2 L1123.8,929.2 L1125.8,929.2 L1127.8,929.2 L1129.8,929.2 L1131.8,929.2 L1133.8,929.2 L1135.8,929.2 L1137.8,929.2 L1139.8,929.2 L1141.8,929.2 L1143.8,929.2 L1145.8,929.2 L1147.8,929.2 L1149.8,929.2 L1151.8,929.2 L1153.8,929.2 L1155.8,929.2 L1157.8,929.2 L1159.8,929.2 L1161.8,929.2 L1163.8,929.2 L1165.8,929.2 L1167.8,929.2 L1169.8,929.2 L1171.8,929.2 L1173.8,929.2 L1175.8,929.2 L1177.8,929.2 L1179.8,929.2 L1181.8,929.2 L1183.8,929.2 L1185.8,929.2 L1187.8,929.2 L1189.8,929.2 L1191.7,929.2 L1193.7,929.2 L1195.7,929.2 L1197.7,929.2 L1199.7,929.2 L1201.7,929.2 L1203.7,929.2 L1205.7,929.2 L1207.7,929.2 L1209.7,929.2 L1211.7,929.2 L1213.7,929.2 L1215.7,929.2 L1217.7,929.2 L1219.7,929.2 L1221.7,929.2 L1223.7,929.2 L1225.7,929.2 L1227.7,929.2 L1229.7,929.2 L1231.7,929.2 L1233.7,929.2 L1235.7,929.2 L1237.7,929.2 L1239.7,929.2 L1241.7,929.2 L1243.7,929.2 L1245.7,929.2 L1247.7,929.2 L1249.7,929.2 L1251.7,929.2 L1253.7,929.2 L1255.7,929.2 L1257.7,929.2 L1259.7,929.2 L1261.7,929.2 L1263.7,929.2 L1265.7,929.2 L1267.7,929.2 L1269.7,929.2 L1271.7,929.2 L1273.7,929.2 L1275.7,929.2 L1277.7,929.2 L1279.7,929.2 L1281.7,929.2 L1283.7,929.2 L1285.6,929.2 L1287.6,929.2 L1289.6,929.2 L1291.6,929.2 L1293.6,929.2 L1295.6,929.2 L1297.6,929.2 L1299.6,929.2 L1301.6,929.2 L1303.6,929.2 L1305.6,929.2 L1307.6,929.2 L1309.6,929.2 L1311.6,929.2 L1313.6,929.2 L1315.6,929.2 L1317.6,929.2 L1319.6,929.2 L1321.6,929.2 L1323.6,929.2 L1325.6,929.2 L1327.6,929.2 L1329.6,929.2 L1331.6,929.2 L1333.6,929.2 L1335.6,929.2 L1337.6,929.2 L1339.6,929.2 L1341.6,929.2 L1343.6,929.2 L1345.6,929.2 L1347.6,929.2 L1349.6,929.2 L1351.6,929.2 L1353.6,929.2 L1355.6,929.2 L1357.6,929.2 L1359.6,929.2 L1361.6,929.2 L1363.6,929.2 L1365.6,929.2 L1367.6,929.2 L1369.6,929.2 L1371.6,929.2 L1373.5,929.2 L1375.5,929.2 L1377.5,929.2 L1379.5,929.2 L1381.5,929.2 L1383.5,929.2 L1385.5,929.2 L1387.5,929.2 L1389.5,929.2 L1391.5,929.2 L1393.5,929.2 L1395.5,929.2 L1397.5,929.2 L1399.5,929.2 L1401.5,929.2 L1403.5,929.2 L1405.5,929.2 L1407.5,929.2 L1409.5,929.2 L1411.5,929.2 L1413.5,929.2 L1415.5,929.2 L1417.5,929.2 L1419.5,929.2 L1421.5,929.2 L1423.5,929.2 L1425.5,929.2 L1427.5,929.2 L1429.5,929.2 L1431.5,929.2 L1433.5,929.2 L1435.5,929.2 L1437.5,929.2 L1439.5,929.2 L1441.5,929.2 L1443.5,929.2 L1445.5,929.2 L1447.5,929.2 L1449.5,929.2 L1451.5,929.2 L1453.5,929.1 L1455.5,929.1 L1457.5,929.1 L1459.4,929.1 L1461.4,929.1 L1463.4,929.1 L1465.4,929.1 L1467.4,929.1 L1469.4,929.1 L1471.4,929.1 L1473.4,929.1 L1475.4,929.1 L1477.4,929.1 L1479.4,929.1 L1481.4,929.1 L1483.4,929.1 L1485.4,929.1 L1487.4,929.1 L1489.4,929.1 L1491.4,929.1 L1493.4,929.1 L1495.4,929.1 L1497.4,929.1 L1499.4,929.1 L1501.4,929.1 L1503.4,929.1 L1505.4,929.1 L1507.4,929.1 L1509.4,929.1 L1511.4,929.1 L1513.4,929.1 L1515.4,929.1 L1517.4,929.1 L1519.4,929.1 L1521.4,929.1 L1523.4,929.1 L1525.4,929.1 L1527.4,929.1 L1529.4,929.1 L1531.4,929.1 L1533.4,929.1 L1535.4,929.1 L1537.4,929.1 L1539.4,929.1 L1541.4,929.1 L1543.4,929.1 L1545.4,929.1 L1547.3,929.1 L1549.3,929.1 L1551.3,929.1 L1553.3,929.1 L1555.3,929.1 L1557.3,929.1 L1559.3,929.1 L1561.3,929.1 L1563.3,929.1 L1565.3,929.1 L1567.3,929.1 L1569.3,929.1 L1571.3,929.1 L1573.3,929.1 L1575.3,929.1 L1577.3,929.1 L1579.3,929.1 L1581.3,929.1 L1583.3,929.1 L1585.3,929.1 L1587.3,929.1 L1589.3,929.1 L1591.3,929.1 L1593.3,929.1 L1595.3,929.1 L1597.3,929.1 L1599.3,929.1 L1601.3,929.1 L1603.3,929.1 L1605.3,929.1 L1607.3,929.1 L1609.3,929.1 L1611.3,929.1 L1613.3,929.1 L1615.3,929.1 L1617.3,929.1 L1619.3,929.1 L1621.3,929.1 L1623.3,929.1 L1625.3,929.1 L1627.3,929.1 L1629.3,929.1 L1631.3,929.1 L1633.3,929.1 L1635.3,929.1 L1637.3,929.1 L1639.3,929.1 L1641.2,929.1 L1643.2,929.1 L1645.2,929.1 L1647.2,929.1 L1649.2,929.1 L1651.2,929.1 L1653.2,929.1 L1655.2,929.1 L1657.2,929.1 L1659.2,929.1 L1661.2,929.1 L1663.2,929.1 L1665.2,929.1 L1667.2,929.1 L1669.2,929.1 L1671.2,929.1 L1673.2,929.1 L1675.2,929.1 L1677.2,929.1 L1679.2,929.1 L1681.2,929.1 L1683.2,929.1 L1685.2,929.1 L1687.2,929.1 L1689.2,929.1 L1691.2,929.1 L1693.2,929.1 L1695.2,929.1 L1697.2,929.1 L1699.2,929.1 L1701.2,929.1 L1703.2,929.1 L1705.2,929.1 L1707.2,929.1 L1709.2,929.1 L1711.2,929.1 L1713.2,929.1 L1715.2,929.1 L1717.2,929.1 L1719.2,929.1 L1721.2,929.1 L1723.2,929.1 L1725.2,929.1 L1727.2,929.1 L1729.2,929.1 L1731.2,929.1 L1733.2,929.1 L1735.2,929.1 L1737.2,929.1 L1739.2,929.1 L1741.2,929.1 L1743.2,929.1 L1745.2,929.1 L1747.1,929.1 L1749.1,929.1 L1751.1,929.1 L1753.1,929.1 L1755.1,929.1 L1757.1,929.1 L1759.1,929.1 L1761.1,929.1 L1763.1,929.1 L1765.1,929.1 L1767.1,929.1 L1769.1,929.1 L1771.1,929.1 L1773.1,929.1 L1775.1,929.1 L1777.1,929.1 L1779.1,929.1 L1781.1,929.1 L1783.1,929.1 L1785.1,929.1 L1787.1,929.1 L1789.1,929.1 L1791.1,929.1 L1793.1,929.2 L1795.1,929.2 L1797.1,929.2 L1799.1,929.2 L1801.1,929.2 L1803.1,929.2 L1805.1,929.2 L1807.1,929.2 L1809.1,929.2 L1811.1,929.2 L1813.1,929.2 L1815.1,929.2 L1817.1,929.2 L1819.1,929.2 L1821.1,929.2 L1823.1,929.2 L1825.1,929.2 L1827.1,929.2 L1829.1,929.2 L1831.1,929.2 L1833.1,929.2 L1835.1,929.2 L1837.1,929.2 L1839.1,929.2 L1841.1,929.2 L1843.1,929.2 L1845.1,929.2 L1847.1,929.2 L1849.1,929.2 L1851.1,929.2 L1853.1,929.2 L1855.1,929.2 L1857.1,929.2 L1859.1,929.2 L1861.1,929.2 L1863.1,929.2 L1865.1,929.2 L1867.1,929.2 L1869.1,929.2 L1871.1,929.2 L1873.1,929.2 L1875.1,929.2 L1877.1,929.2 L1879.1,929.2 L1881.1,929.2 L1883.1,929.2 L1885.1,929.3 L1887.0,929.3 L1889.0,929.3 L1891.0,929.3 L1893.0,929.3 L1895.0,929.3 L1897.0,929.3 L1899.0,929.3 L1901.0,929.3 L1903.0,929.3 L1905.0,929.3 L1907.0,929.3 L1909.0,929.3 L1911.0,929.3 L1913.0,929.3 L1915.0,929.3 L1917.0,929.3 L1919.0,929.3 L1921.0,929.3 L1923.0,929.3 L1925.0,929.3 L1927.0,929.3 L1929.0,929.3 L1931.0,929.3 L1933.0,929.3 L1935.0,929.3 L1937.0,929.3 L1939.0,929.3 L1941.0,929.3 L1943.0,929.4 L1945.0,929.4 L1947.0,929.4 L1949.0,929.4 L1951.0,929.4 L1953.0,929.4 L1955.0,929.4 L1957.0,929.4 L1959.0,929.4 L1961.0,929.4 L1963.0,929.4 L1965.0,929.4 L1967.0,929.4 L1969.0,929.4 L1971.0,929.4 L1973.0,929.4 L1975.0,929.4 L1977.0,929.4 L1979.0,929.4 L1981.0,929.4 L1983.0,929.4 L1985.0,929.4 L1987.0,929.4 L1989.0,929.5 L1991.0,929.5 L1993.0,929.5 L1995.0,929.5 L1997.0,929.5 L1999.0,929.5 L2001.0,929.5 L2003.0,929.5 L2005.0,929.5 L2007.0,929.5 L2009.0,929.5 L2011.0,929.5 L2013.0,929.5" fill="none" stroke="#ffc000" stroke-width="4.2" stroke-linejoin="round"/>
<path d="M325.2,185.1 L325.2,973.9 L2013.8,973.9" fill="none" stroke="#000" stroke-width="4.4" stroke-linejoin="round"/>
<line x1="324.5" y1="1313.0" x2="393.4" y2="1313.0" stroke="#1466c6" stroke-width="4.2"/>
<line x1="324.5" y1="1420.5" x2="393.4" y2="1420.5" stroke="#a0a0a0" stroke-width="4.2"/>
<line x1="1216.9" y1="1314.0" x2="1286.6" y2="1314.0" stroke="#ffc000" stroke-width="4.2"/>
<line x1="1216.9" y1="1421.0" x2="1286.6" y2="1421.0" stroke="#ff7316" stroke-width="4.2"/>
<text x="723.34" y="90.50" font-size="101" textLength="625.67" lengthAdjust="spacingAndGlyphs">Kinetic Energy</text>
<text x="116.64" y="208.30" font-size="73" textLength="140.33" lengthAdjust="spacingAndGlyphs">3000</text>
<text x="117.43" y="339.45" font-size="73" textLength="139.52" lengthAdjust="spacingAndGlyphs">2500</text>
<text x="117.95" y="470.60" font-size="73" textLength="139.00" lengthAdjust="spacingAndGlyphs">2000</text>
<text x="115.59" y="601.75" font-size="73" textLength="141.41" lengthAdjust="spacingAndGlyphs">1500</text>
<text x="115.59" y="732.90" font-size="73" textLength="141.41" lengthAdjust="spacingAndGlyphs">1000</text>
<text x="149.85" y="864.05" font-size="73" textLength="107.17" lengthAdjust="spacingAndGlyphs">500</text>
<text x="219.64" y="995.20" font-size="73" textLength="37.52" lengthAdjust="spacingAndGlyphs">0</text>
<text x="307.21" y="1095.20" font-size="73" textLength="36.57" lengthAdjust="spacingAndGlyphs">0</text>
<text x="608.02" y="1095.20" font-size="73" textLength="107.09" lengthAdjust="spacingAndGlyphs">100</text>
<text x="945.88" y="1095.20" font-size="73" textLength="106.63" lengthAdjust="spacingAndGlyphs">200</text>
<text x="1282.95" y="1095.20" font-size="73" textLength="108.09" lengthAdjust="spacingAndGlyphs">300</text>
<text x="1622.63" y="1095.20" font-size="73" textLength="105.03" lengthAdjust="spacingAndGlyphs">400</text>
<text x="1958.53" y="1095.20" font-size="73" textLength="107.60" lengthAdjust="spacingAndGlyphs">500</text>
<text x="1045.39" y="1197.00" font-size="73" textLength="247.18" lengthAdjust="spacingAndGlyphs">Time <tspan dy="3.2">[</tspan><tspan dy="-3.2">s</tspan><tspan dy="3.2">]</tspan></text>
<g transform="rotate(-90)"><text x="-880.59" y="89.60" font-size="73" textLength="598.96" lengthAdjust="spacingAndGlyphs">Kinetic Energy <tspan dy="3.3">[</tspan><tspan dy="-3.3">MJ</tspan><tspan dy="3.3">]</tspan></text></g>
<text x="402.93" y="1333.70" font-size="73" textLength="607.32" lengthAdjust="spacingAndGlyphs">Without manoeuvre</text>
<text x="399.12" y="1442.20" font-size="73" textLength="401.46" lengthAdjust="spacingAndGlyphs">Manoeuvre 2</text>
<text x="1291.14" y="1334.70" font-size="73" textLength="398.58" lengthAdjust="spacingAndGlyphs">Manoeuvre 1</text>
<text x="1291.12" y="1443.00" font-size="73" textLength="400.83" lengthAdjust="spacingAndGlyphs">Manoeuvre 3</text>
</svg>
</body></html>
